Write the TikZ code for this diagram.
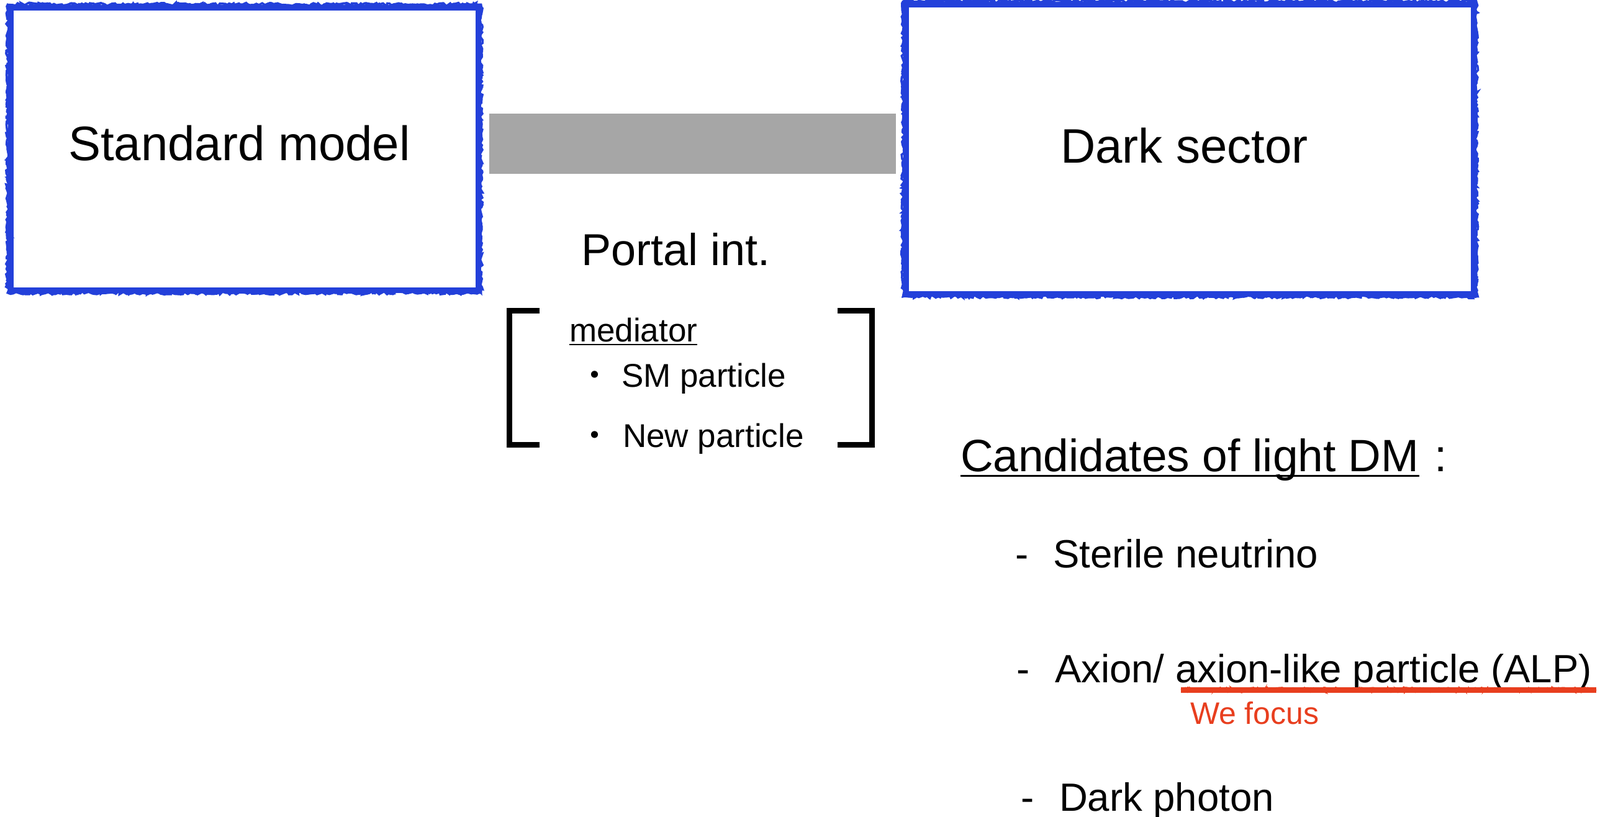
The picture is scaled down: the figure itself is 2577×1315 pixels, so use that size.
\documentclass[tikz,border=0pt]{standalone}
\usepackage{fontspec}
\setmainfont{Liberation Sans}
\newfontfamily\cjk{Noto Sans CJK JP}
\usetikzlibrary{decorations.pathmorphing}
\definecolor{sblue}{RGB}{35,64,218}
\definecolor{sred}{RGB}{232,62,30}
\definecolor{bargray}{RGB}{166,166,166}
\newcommand{\fs}[1]{\fontsize{#1}{#1}\selectfont}
\tikzset{
  roughbox/.style={draw=sblue, line width=9pt, rectangle, inner sep=0pt},
  fuzz/.style={draw=sblue, line width=3.5pt, decorate,
    decoration={random steps, segment length=5pt, amplitude=2.5pt}},
  txt/.style={inner sep=0pt, outer sep=0pt, anchor=base west},
  bigtxt/.style={txt, font=\fs{78}},
  itemtxt/.style={txt, font=\fs{63.5}},
  medtxt/.style={txt, font=\fs{53}},
  brack/.style={draw=black, line width=9pt, line join=miter},
}
\begin{document}
\begin{tikzpicture}[x=1pt, y=-1pt]
\useasboundingbox[fill=white] (0,0) rectangle (2577,1315);

% boxes
\node[roughbox, minimum width=753pt, minimum height=455pt] (sm) at (393.5,239.5) {};
\node[roughbox, minimum width=914pt, minimum height=466pt] (ds) at (1916,240) {};
\draw[fuzz] (sm.north west) rectangle (sm.south east);
\draw[fuzz, decoration={random steps, segment length=4pt, amplitude=3pt}] (sm.south west) rectangle (sm.north east);
\draw[fuzz] (ds.north west) rectangle (ds.south east);
\draw[fuzz, decoration={random steps, segment length=4pt, amplitude=3pt}] (ds.south west) rectangle (ds.north east);

\node[bigtxt] (smt) at (110,258) {Standard model};
\node[bigtxt] (dst) at (1708,262) {Dark sector};

% portal bar
\node[fill=bargray, draw=none, inner sep=0pt, minimum width=655pt, minimum height=97pt] (bar) at (1115.5,231.5) {};

\node[txt, font=\fs{72}] (portal) at (936,427) {Portal int.};

% brackets
\draw[brack] (869,500.5) -- (820.5,500.5) -- (820.5,716.5) -- (869,716.5);
\draw[brack] (1349,500.5) -- (1404.5,500.5) -- (1404.5,716.5) -- (1349,716.5);

\node[medtxt] (med) at (917,550) {mediator};
\draw[line width=2.5pt] ([yshift=-5pt]med.base west) -- ([yshift=-5pt]med.base east);

\node[anchor=base, inner sep=0pt, font=\cjk\fs{53}] (d1) at (958,623) {・};
\node[medtxt] (smp) at (1001,623) {SM particle};
\node[anchor=base, inner sep=0pt, font=\cjk\fs{53}] (d2) at (958,720) {・};
\node[medtxt] (newp) at (1003,720) {New particle};

% candidates
\node[txt, font=\fs{73}] (cand) at (1547,759) {Candidates of light DM};
\draw[line width=3pt] ([yshift=-7pt]cand.base west) -- ([yshift=-7pt]cand.base east);
\node[txt, font=\fs{73}] (colon) at (2310,759) {:};

\node[itemtxt] (dash1) at (1635,914) {-};
\node[itemtxt] (ster) at (1696,914) {Sterile neutrino};

\node[itemtxt] (dash2) at (1637,1099) {-};
\node[itemtxt] (axion) at (1699,1099) {Axion/ axion-like particle (ALP)};
\coordinate (ul1) at (1902,1111);
\coordinate (ul2) at (2571,1111);
\draw[sred, line width=9pt] (ul1) -- (ul2);
\draw[sred, line width=3pt, decorate, decoration={random steps, segment length=4pt, amplitude=3.5pt}] (ul1) -- (ul2);
\draw[sred, line width=2pt, decorate, decoration={random steps, segment length=3pt, amplitude=4pt}] (ul2) -- (ul1);

\node[txt, font=\fs{50}, text=sred] (focus) at (1917,1166) {We focus};

\node[itemtxt] (dash3) at (1644,1306) {-};
\node[itemtxt] (dph) at (1706,1306) {Dark photon};
\end{tikzpicture}
\end{document}
